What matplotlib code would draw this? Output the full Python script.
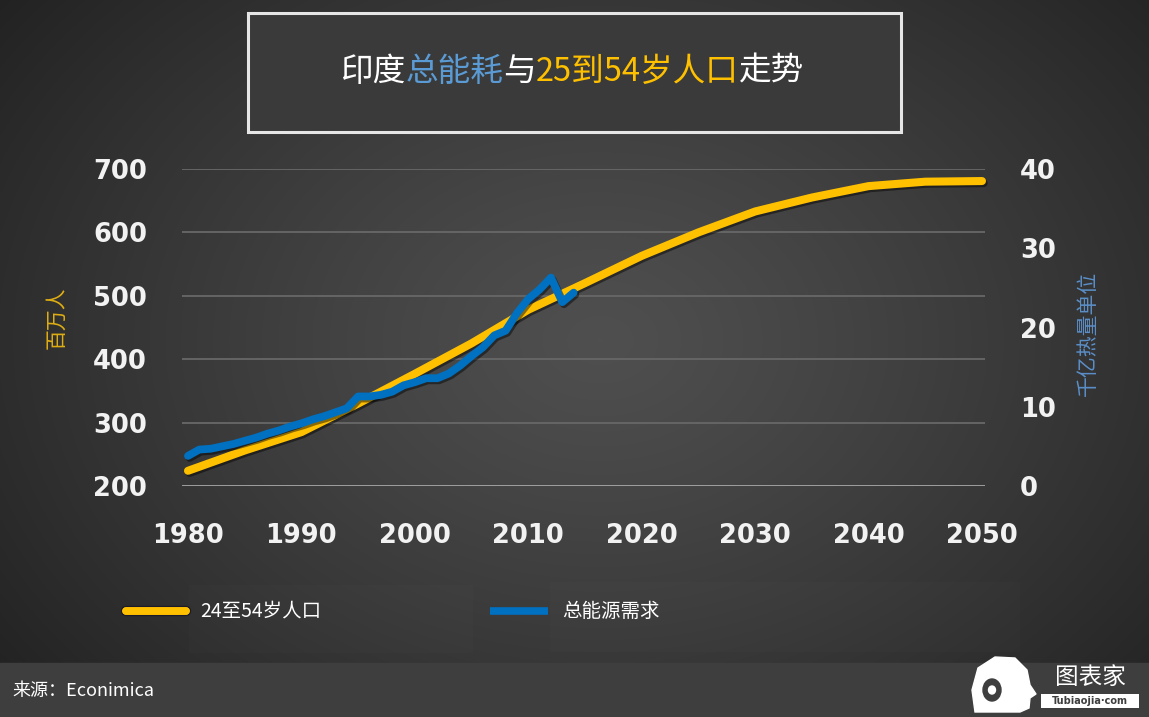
import numpy as np
import matplotlib
matplotlib.use("Agg")
import matplotlib.pyplot as plt
from matplotlib import patheffects as pe
from matplotlib.patches import Rectangle, Ellipse, Polygon
from matplotlib.offsetbox import TextArea, HPacker, AnchoredOffsetbox

plt.rcParams['font.family'] = ['Noto Sans CJK SC', 'DejaVu Sans']

# ---------------- data ----------------
pop_years = [1980, 1985, 1990, 1995, 2000, 2005, 2010, 2015, 2020, 2025, 2030, 2035, 2040, 2045, 2050]
pop_values = [224, 256, 285, 330, 377, 425, 478, 520, 563, 600, 633, 655, 673, 680, 681]

energy_years = list(range(1980, 2015))
energy_values = [3.8, 4.6, 4.7, 5.0, 5.3, 5.7, 6.1, 6.6, 7.0, 7.5,
                 7.9, 8.4, 8.8, 9.3, 9.8, 11.3, 11.3, 11.5, 11.9, 12.7,
                 13.1, 13.6, 13.6, 14.2, 15.2, 16.4, 17.5, 19.0, 19.6, 21.8,
                 23.6, 24.8, 26.3, 23.2, 24.4]

x_ticks = [1980, 1990, 2000, 2010, 2020, 2030, 2040, 2050]
left_ticks = [200, 300, 400, 500, 600, 700]
right_ticks = [0, 10, 20, 30, 40]

pop_label = "24至54岁人口"
energy_label = "总能源需求"
left_axis_label = "百万人"
right_axis_label = "千亿热量单位"
source_text = "来源：Econimica"
title_parts = [("印度", "white"), ("总能耗", "#5B9BD5"), ("与", "white"),
               ("25到54岁人口", "#FFC000"), ("走势", "white")]

YELLOW = "#FFC000"
BLUE = "#0070C0"

W, H = 1149, 717
fig = plt.figure(figsize=(W / 100, H / 100), dpi=100)

# ---------------- background ----------------
bg = fig.add_axes([0, 0, 1, 1], zorder=-10)
yy, xx = np.mgrid[0:H, 0:W]
r = np.sqrt(((xx - 600) / 700.0) ** 2 + ((yy - 340) / 520.0) ** 2)
val = np.clip(0.31 - 0.16 * r ** 1.2, 0.11, 1)
img = np.dstack([val, val, val])
bg.imshow(img, extent=[0, W, H, 0], aspect='auto')
bg.set_xlim(0, W)
bg.set_ylim(H, 0)
bg.axis('off')
# footer band
bg.add_patch(Rectangle((0, 663), W, H - 663, color="#3e3e3e", zorder=2))
# title box
bg.add_patch(Rectangle((248, 13), 653, 119, facecolor="#3a3a3a",
                       edgecolor="#e6e6e6", linewidth=2.2, zorder=2))
# faint legend text boxes
bg.add_patch(Rectangle((189, 585), 284, 68, facecolor="white", alpha=0.012, zorder=2, lw=0))
bg.add_patch(Rectangle((550, 582), 470, 70, facecolor="white", alpha=0.012, zorder=2, lw=0))

# ---------------- main axes ----------------
ax_left = 182 / W
ax_right = 985 / W
ax_top = 1 - 169 / H
ax_bot = 1 - 486 / H
ax = fig.add_axes([ax_left, ax_bot, ax_right - ax_left, ax_top - ax_bot])
ax.patch.set_alpha(0)
px_per_year = (982 - 188) / 70.0
ax.set_xlim(1980 - 6 / px_per_year, 2050 + 3 / px_per_year)
ax.set_ylim(200, 700)
for s in ax.spines.values():
    s.set_visible(False)
ax.set_yticks(left_ticks)
ax.set_xticks(x_ticks)
for t in left_ticks:
    if t == 200:
        ax.axhline(t, color="#a8a8a8", lw=2.0, zorder=1)
    else:
        ax.axhline(t, color="#656565", lw=1.4, zorder=1)

ax.tick_params(axis='both', length=0, colors="#f2f2f2")
ax.tick_params(axis='y', pad=35 * 0.72)
ax.tick_params(axis='x', pad=37 * 0.72)
for lab in ax.get_xticklabels() + ax.get_yticklabels():
    lab.set_fontfamily('DejaVu Sans')
    lab.set_fontweight('bold')
    lab.set_fontsize(18.5)

shadow = [pe.SimpleLineShadow(offset=(1.2, -1.5), shadow_color='black', alpha=0.45), pe.Normal()]
ax.plot(pop_years, pop_values, color=YELLOW, lw=5.8, solid_capstyle='round',
        solid_joinstyle='round', zorder=3, path_effects=shadow, clip_on=False)

ax2 = ax.twinx()
ax2.set_position(ax.get_position())
ax2.set_ylim(0, 40)
ax2.set_yticks(right_ticks)
for s in ax2.spines.values():
    s.set_visible(False)
ax2.tick_params(axis='y', length=0, colors="#f2f2f2", pad=35 * 0.72)
for lab in ax2.get_yticklabels():
    lab.set_fontfamily('DejaVu Sans')
    lab.set_fontweight('bold')
    lab.set_fontsize(18.5)
ax2.plot(energy_years, energy_values, color=BLUE, lw=5.6, solid_capstyle='round',
         solid_joinstyle='round', zorder=4, path_effects=shadow, clip_on=False)

# axis labels
fig.text(57 / W, 1 - 318 / H, left_axis_label, color="#E0AE12", fontsize=15,
         rotation=90, ha='center', va='center')
fig.text(1088 / W, 1 - 333 / H, right_axis_label, color="#5B8FC8", fontsize=15,
         rotation=90, ha='center', va='center')

# ---------------- title ----------------
areas = [TextArea(t, textprops=dict(color=c, fontsize=23.5, family=['Noto Sans CJK SC', 'DejaVu Sans']))
         for t, c in title_parts]
pack = HPacker(children=areas, align='baseline', pad=0, sep=0)
anch = AnchoredOffsetbox(loc='center', child=pack, frameon=False,
                         bbox_to_anchor=(572 / W, 1 - 72 / H),
                         bbox_transform=fig.transFigure, borderpad=0, pad=0)
fig.add_artist(anch)

# ---------------- legend ----------------
bg.plot([126, 186], [611, 611], color=YELLOW, lw=5.5, solid_capstyle='round', zorder=5,
        path_effects=[pe.withStroke(linewidth=7.5, foreground="#1c1c28"), pe.Normal()])
bg.text(200, 611, pop_label, color="white", fontsize=14, va='center', ha='left', zorder=5)
bg.plot([490, 548], [611, 611], color=BLUE, lw=5.5, solid_capstyle='butt', zorder=5)
bg.text(562, 611, energy_label, color="white", fontsize=14, va='center', ha='left', zorder=5)

# ---------------- footer ----------------
bg.text(12, 691, source_text, color="white", fontsize=13, va='center', ha='left', zorder=5)
# logo (simple head silhouette)
head = Polygon([(975, 712), (972, 690), (978, 668), (995, 657), (1015, 658), (1027, 670),
                (1030, 685), (1036, 694), (1030, 698), (1029, 708), (1020, 712)],
               closed=True, color="white", zorder=5)
bg.add_patch(head)
bg.add_patch(Ellipse((992, 690), 18, 22, color="#3e3e3e", zorder=6))
bg.add_patch(Ellipse((992, 690), 7, 8, color="white", zorder=7))
bg.text(1090, 677, "图表家", color="white", fontsize=17, va='center', ha='center', zorder=5)
bg.add_patch(Rectangle((1041, 694), 98, 14, facecolor="white", zorder=5, lw=0))
bg.text(1090, 701, "Tubiaojia·com", color="#3e3e3e", fontsize=7, fontweight='bold',
        va='center', ha='center', zorder=6, family='DejaVu Sans')

fig.savefig("out.png", dpi=100)
